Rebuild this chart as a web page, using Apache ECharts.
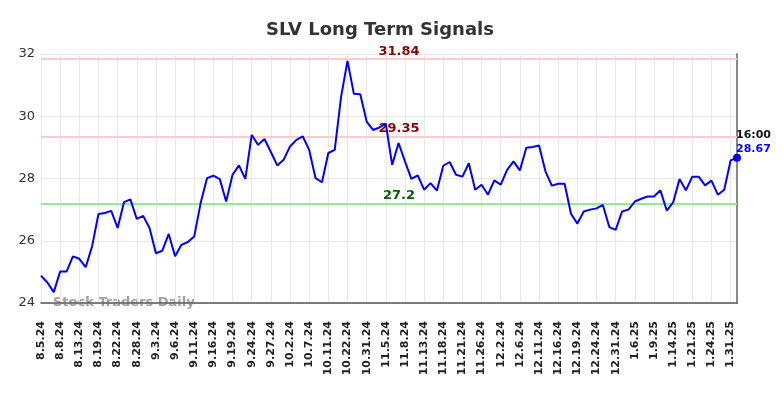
<!DOCTYPE html>
<html>
<head>
<meta charset="utf-8">
<script src="https://cdn.jsdelivr.net/npm/echarts@6/dist/echarts.min.js"></script>
<style>html,body{margin:0;padding:0;background:#fff;}#c{width:784px;height:398px;}</style>
</head>
<body>
<div id="c"></div>
<script>
const dates = ["8.5.24","8.6.24","8.7.24","8.8.24","8.9.24","8.12.24","8.13.24","8.14.24","8.16.24","8.19.24",
"8.20.24","8.21.24","8.22.24","8.23.24","8.26.24","8.28.24","8.29.24","8.30.24","9.3.24","9.4.24",
"9.5.24","9.6.24","9.9.24","9.10.24","9.11.24","9.12.24","9.13.24","9.16.24","9.17.24","9.18.24",
"9.19.24","9.20.24","9.23.24","9.24.24","9.25.24","9.26.24","9.27.24","9.30.24","10.1.24","10.2.24",
"10.3.24","10.4.24","10.7.24","10.8.24","10.10.24","10.11.24","10.15.24","10.18.24","10.22.24","10.25.24",
"10.29.24","10.31.24","11.1.24","11.4.24","11.5.24","11.6.24","11.7.24","11.8.24","11.11.24","11.12.24",
"11.13.24","11.14.24","11.15.24","11.18.24","11.19.24","11.20.24","11.21.24","11.22.24","11.25.24","11.26.24",
"11.27.24","11.29.24","12.2.24","12.3.24","12.4.24","12.6.24","12.9.24","12.10.24","12.11.24","12.12.24",
"12.13.24","12.16.24","12.17.24","12.18.24","12.19.24","12.20.24","12.23.24","12.24.24","12.26.24","12.27.24",
"12.31.24","1.2.25","1.3.25","1.6.25","1.7.25","1.8.25","1.9.25","1.10.25","1.13.25","1.14.25",
"1.15.25","1.17.25","1.21.25","1.22.25","1.23.25","1.24.25","1.27.25","1.29.25","1.31.25","2.3.25"];
const prices = [24.88,24.66,24.35,25.01,25.01,25.50,25.42,25.15,25.82,26.86,
26.89,26.96,26.41,27.24,27.33,26.70,26.80,26.41,25.60,25.68,
26.22,25.50,25.87,25.96,26.14,27.21,28.01,28.09,27.98,27.26,
28.12,28.42,27.99,29.40,29.08,29.27,28.85,28.42,28.60,29.03,
29.24,29.35,28.92,28.01,27.88,28.82,28.92,30.63,31.78,30.72,
30.71,29.83,29.56,29.64,29.76,28.44,29.14,28.55,27.99,28.10,
27.64,27.85,27.61,28.41,28.53,28.12,28.06,28.49,27.64,27.80,
27.48,27.94,27.80,28.28,28.55,28.26,28.99,29.01,29.06,28.23,
27.77,27.83,27.83,26.87,26.55,26.94,27.00,27.04,27.15,26.44,
26.35,26.94,27.00,27.26,27.35,27.42,27.42,27.62,26.97,27.23,
27.98,27.62,28.06,28.06,27.78,27.93,27.48,27.64,28.58,28.67];
const resistanceLevels = [31.84, 29.35];
const supportLevels = [27.2];
const lastTime = "16:00";
const yTicks = {min: 24, max: 32, interval: 2};

const chart = echarts.init(document.getElementById('c'), null, {renderer: 'canvas'});
const lastIdx = prices.length - 1;
const FONT = 'DejaVu Sans';

const markLineData = [];
resistanceLevels.forEach(v => markLineData.push({
  yAxis: v,
  lineStyle: {color: '#ffcccc', width: 2, type: 'solid'},
  label: {show: true, position: 'insideMiddleTop', formatter: String(v), color: '#8b0000',
          fontFamily: FONT, fontWeight: 'bold', fontSize: 13, offset: [10, 1], distance: 2}
}));
supportLevels.forEach(v => markLineData.push({
  yAxis: v,
  lineStyle: {color: '#90ee90', width: 2, type: 'solid'},
  label: {show: true, position: 'insideMiddleTop', formatter: String(v), color: '#006400',
          fontFamily: FONT, fontWeight: 'bold', fontSize: 13, offset: [10, 1], distance: 2}
}));

chart.setOption({
  animation: false,
  backgroundColor: '#ffffff',
  title: {
    text: 'SLV Long Term Signals',
    left: 375, top: 16, textAlign: 'center',
    textStyle: {fontFamily: FONT, fontWeight: 'bold', fontSize: 18, color: '#333333'}
  },
  grid: {left: 41, right: 47, top: 54, bottom: 95, containLabel: false},
  xAxis: {
    type: 'category', data: dates, boundaryGap: false,
    axisLine: {show: true, lineStyle: {color: '#555555', width: 1.5}},
    axisTick: {show: false},
    axisLabel: {interval: 2, rotate: 90, fontFamily: FONT, fontWeight: 'bold', fontSize: 11, color: '#222222', margin: 18},
    splitLine: {show: true, interval: 2, lineStyle: {color: '#e8e8e8', width: 1}}
  },
  yAxis: [{
    type: 'value', min: yTicks.min, max: yTicks.max, interval: yTicks.interval, position: 'left',
    axisLine: {show: false}, axisTick: {show: false},
    axisLabel: {fontFamily: FONT, fontSize: 13, color: '#333333', margin: 6},
    splitLine: {show: true, lineStyle: {color: '#e8e8e8', width: 1}}
  }, {
    type: 'value', min: yTicks.min, max: yTicks.max, interval: yTicks.interval, position: 'right',
    axisLine: {show: true, lineStyle: {color: '#888888', width: 2}}, axisTick: {show: false},
    axisLabel: {show: false}, splitLine: {show: false}
  }],
  graphic: [{
    type: 'text', left: 53, top: 296,
    style: {text: 'Stock Traders Daily', fontFamily: FONT, fontWeight: 'bold', fontSize: 13, fill: 'rgba(128,128,128,0.75)'}
  }],
  series: [{
    type: 'line', data: prices, yAxisIndex: 0,
    showSymbol: false, symbol: 'none',
    lineStyle: {color: '#0000ff', width: 2},
    z: 5,
    markLine: {silent: true, symbol: ['none', 'none'], data: markLineData, z: 3},
    markPoint: {
      symbol: 'circle', symbolSize: 8,
      itemStyle: {color: '#0000ff'},
      data: [{coord: [lastIdx, prices[lastIdx]], value: prices[lastIdx]}],
      label: {
        show: true, position: [3, -26], align: 'left', verticalAlign: 'top',
        formatter: '{t|' + lastTime + '}\n{v|' + prices[lastIdx].toFixed(2) + '}',
        rich: {
          t: {fontFamily: FONT, fontWeight: 'bold', fontSize: 11, color: '#111111', lineHeight: 14},
          v: {fontFamily: FONT, fontWeight: 'bold', fontSize: 11, color: '#0000ff', lineHeight: 14}
        }
      }
    }
  }]
});
</script>
</body>
</html>
